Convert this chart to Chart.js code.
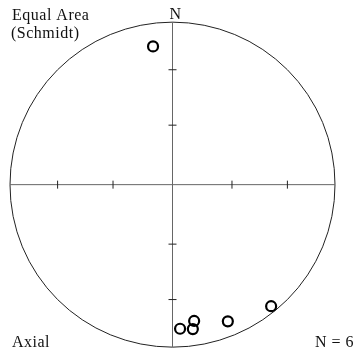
<!DOCTYPE html>
<html>
<head>
<meta charset="utf-8">
<script src="https://cdn.jsdelivr.net/npm/chart.js@4/dist/chart.umd.min.js"></script>
<style>
  html, body { margin: 0; padding: 0; background: #fff; }
  #wrap { width: 360px; height: 354px; }
</style>
</head>
<body>
<div id="wrap"><canvas id="stereoChart"></canvas></div>
<script>
// Axial measurements: trend and plunge in degrees
const trends = [352, 177, 171, 172, 158, 141];
const plunges = [15, 12, 16, 11, 10, 4];
// Plunge values marked along the axes
const tickPlunges = [30, 60];

// Equal-area (Schmidt) radius for a given plunge, unit net
function eqArea(p) {
    return Math.SQRT2 * Math.sin((90 - p) / 2 * Math.PI / 180);
}

const points = trends.map((t, i) => {
    const r = eqArea(plunges[i]);
    const a = t * Math.PI / 180;
    return { x: r * Math.sin(a), y: r * Math.cos(a) };
});

// Primitive circle, cross and labels
const netPlugin = {
    id: "net",
    beforeDatasetsDraw(chart) {
        const { ctx, scales: { x, y } } = chart;
        const cx = x.getPixelForValue(0);
        const cy = y.getPixelForValue(0);
        const R = x.getPixelForValue(1) - cx;
        ctx.save();
        ctx.strokeStyle = "#222";
        ctx.lineWidth = 1;
        ctx.beginPath();
        ctx.arc(cx, cy, R, 0, Math.PI * 2);
        ctx.stroke();

        ctx.strokeStyle = "#666";
        ctx.beginPath();
        ctx.moveTo(cx - R, cy); ctx.lineTo(cx + R, cy);
        ctx.moveTo(cx, cy - R); ctx.lineTo(cx, cy + R);
        ctx.stroke();

        ctx.strokeStyle = "#222";
        ctx.beginPath();
        tickPlunges.forEach(p => {
            const d = eqArea(p) * R;
            [-1, 1].forEach(s => {
                ctx.moveTo(cx + s * d, cy - 4); ctx.lineTo(cx + s * d, cy + 4);
                ctx.moveTo(cx - 4, cy + s * d); ctx.lineTo(cx + 4, cy + s * d);
            });
        });
        ctx.stroke();

        ctx.fillStyle = "#111";
        ctx.font = "16px 'Liberation Serif', 'DejaVu Serif', serif";
        ctx.letterSpacing = "0.5px";
        ctx.textBaseline = "alphabetic";
        ctx.textAlign = "left";
        ctx.fillText("Equal Area", 12, 20);
        ctx.fillText("(Schmidt)", 11, 38);
        ctx.fillText("Axial", 12, 347);
        ctx.fillText("N = 6", 315, 347);
        ctx.textAlign = "center";
        ctx.fillText("N", cx + 3, cy - R - 3);
        ctx.restore();
    }
};

new Chart(document.getElementById("stereoChart"), {
    type: "scatter",
    data: {
        datasets: [{
            data: points,
            pointStyle: "circle",
            pointRadius: 5,
            pointBorderWidth: 2.2,
            pointBorderColor: "#000",
            pointBackgroundColor: "rgba(255,255,255,0)"
        }]
    },
    options: {
        responsive: true,
        maintainAspectRatio: false,
        animation: false,
        layout: { padding: { left: 10, top: 22.5, right: 25, bottom: 6.5 } },
        scales: {
            x: { display: false, min: -1, max: 1 },
            y: { display: false, min: -1, max: 1 }
        },
        plugins: {
            legend: { display: false },
            tooltip: { enabled: false }
        }
    },
    plugins: [netPlugin]
});
</script>
</body>
</html>
